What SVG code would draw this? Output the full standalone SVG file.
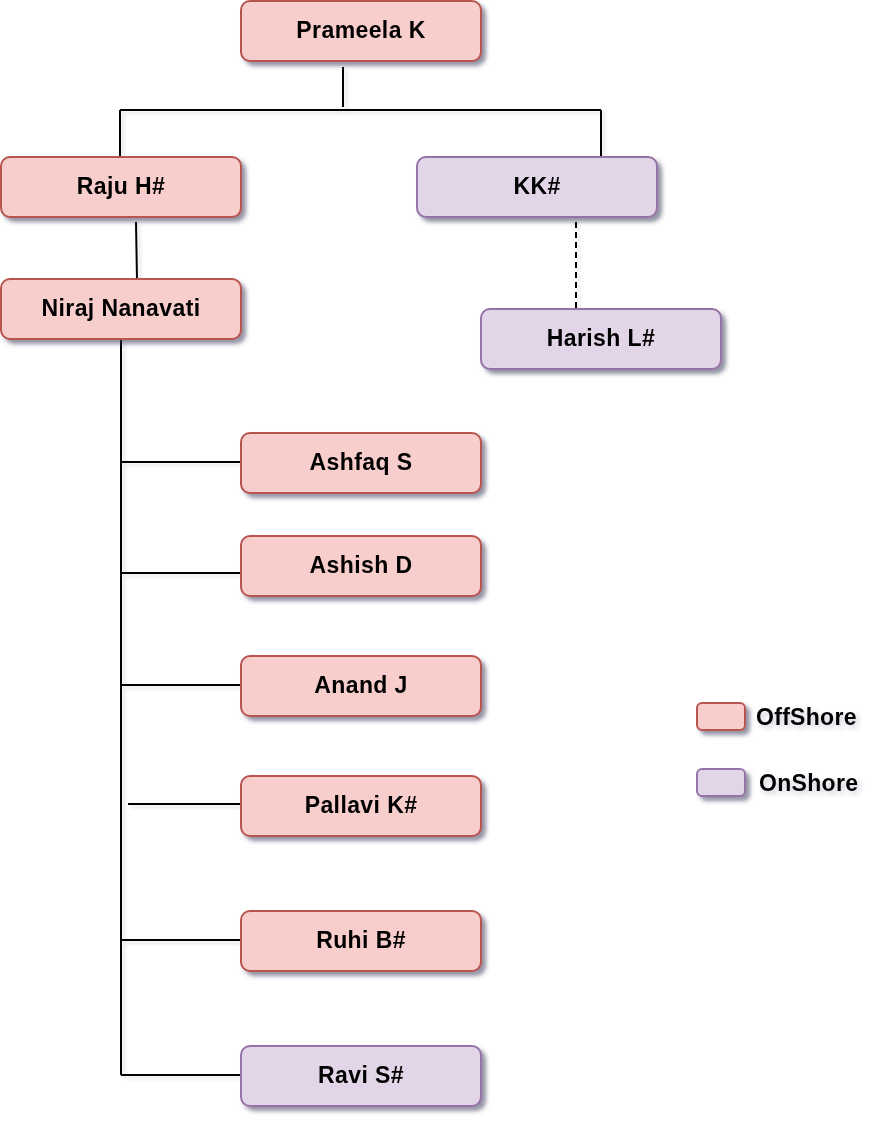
<svg xmlns="http://www.w3.org/2000/svg" width="880" height="1136" viewBox="0 0 880 1136">
<defs>
<filter id="sh" x="-10%" y="-20%" width="130%" height="160%">
<feGaussianBlur in="SourceAlpha" stdDeviation="2" result="b"/>
<feOffset in="b" dx="4" dy="4" result="o"/>
<feFlood flood-color="#3a3a5a" flood-opacity="0.55"/>
<feComposite in2="o" operator="in" result="s"/>
<feMerge><feMergeNode in="s"/><feMergeNode in="SourceGraphic"/></feMerge>
</filter>
<filter id="tsh" x="-10%" y="-30%" width="130%" height="180%">
<feGaussianBlur in="SourceAlpha" stdDeviation="2.5" result="b"/>
<feOffset in="b" dx="3" dy="3" result="o"/>
<feFlood flood-color="#3a3a5a" flood-opacity="0.25"/>
<feComposite in2="o" operator="in" result="s"/>
<feMerge><feMergeNode in="s"/><feMergeNode in="SourceGraphic"/></feMerge>
</filter>
<filter id="lsh" x="-50%" y="-50%" width="200%" height="200%">
<feGaussianBlur in="SourceAlpha" stdDeviation="1.5" result="b"/>
<feOffset in="b" dx="3" dy="3" result="o"/>
<feFlood flood-color="#3a3a5a" flood-opacity="0.15"/>
<feComposite in2="o" operator="in" result="s"/>
<feMerge><feMergeNode in="s"/><feMergeNode in="SourceGraphic"/></feMerge>
</filter>
</defs>
<style>
.off{fill:#f8cecc;stroke:#b85450;stroke-width:2}
.on{fill:#e1d5e7;stroke:#9673a6;stroke-width:2}
.t{font-family:"Liberation Sans",Arial,sans-serif;font-weight:bold;font-size:23px;letter-spacing:0.4px;fill:#000;text-anchor:middle}
.lt{font-family:"Liberation Sans",Arial,sans-serif;font-weight:bold;font-size:23px;letter-spacing:0.3px;fill:#000}
.ln{stroke:#000;stroke-width:2;fill:none}
.dash{stroke-dasharray:6,4}
</style>
<g id="connectors" filter="url(#lsh)">
<path class="ln" d="M343,67 V107"/>
<path class="ln" d="M120,110 H601"/>
<path class="ln" d="M120,110 V157"/>
<path class="ln" d="M601,110 V157"/>
<path class="ln" d="M136,222 L137,280"/>
<path class="ln dash" d="M576,222 V308"/>
<path class="ln" d="M121,339 V1075"/>
<path class="ln" d="M121,462 H241"/>
<path class="ln" d="M121,573 H241"/>
<path class="ln" d="M121,685 H241"/>
<path class="ln" d="M128,804 H247"/>
<path class="ln" d="M121,940 H241"/>
<path class="ln" d="M121,1075 H241"/>
</g>
<g id="prameela" filter="url(#sh)"><rect class="off" x="241" y="1" width="240" height="60" rx="9"/><text class="t" x="361" y="38">Prameela K</text></g>
<g id="raju" filter="url(#sh)"><rect class="off" x="1" y="157" width="240" height="60" rx="9"/><text class="t" x="121" y="194">Raju H#</text></g>
<g id="kk" filter="url(#sh)"><rect class="on" x="417" y="157" width="240" height="60" rx="9"/><text class="t" x="537" y="194">KK#</text></g>
<g id="niraj" filter="url(#sh)"><rect class="off" x="1" y="279" width="240" height="60" rx="9"/><text class="t" x="121" y="316">Niraj Nanavati</text></g>
<g id="harish" filter="url(#sh)"><rect class="on" x="481" y="309" width="240" height="60" rx="9"/><text class="t" x="601" y="346">Harish L#</text></g>
<g id="ashfaq" filter="url(#sh)"><rect class="off" x="241" y="433" width="240" height="60" rx="9"/><text class="t" x="361" y="470">Ashfaq S</text></g>
<g id="ashish" filter="url(#sh)"><rect class="off" x="241" y="536" width="240" height="60" rx="9"/><text class="t" x="361" y="573">Ashish D</text></g>
<g id="anand" filter="url(#sh)"><rect class="off" x="241" y="656" width="240" height="60" rx="9"/><text class="t" x="361" y="693">Anand J</text></g>
<g id="pallavi" filter="url(#sh)"><rect class="off" x="241" y="776" width="240" height="60" rx="9"/><text class="t" x="361" y="813">Pallavi K#</text></g>
<g id="ruhi" filter="url(#sh)"><rect class="off" x="241" y="911" width="240" height="60" rx="9"/><text class="t" x="361" y="948">Ruhi B#</text></g>
<g id="ravi" filter="url(#sh)"><rect class="on" x="241" y="1046" width="240" height="60" rx="9"/><text class="t" x="361" y="1083">Ravi S#</text></g>
<g id="legend-offshore"><rect class="off" x="697" y="703" width="48" height="27" rx="5" filter="url(#sh)"/><text class="lt" x="756" y="725" filter="url(#tsh)">OffShore</text></g>
<g id="legend-onshore"><rect class="on" x="697" y="769" width="48" height="27" rx="5" filter="url(#sh)"/><text class="lt" x="759" y="791" filter="url(#tsh)">OnShore</text></g>
</svg>
